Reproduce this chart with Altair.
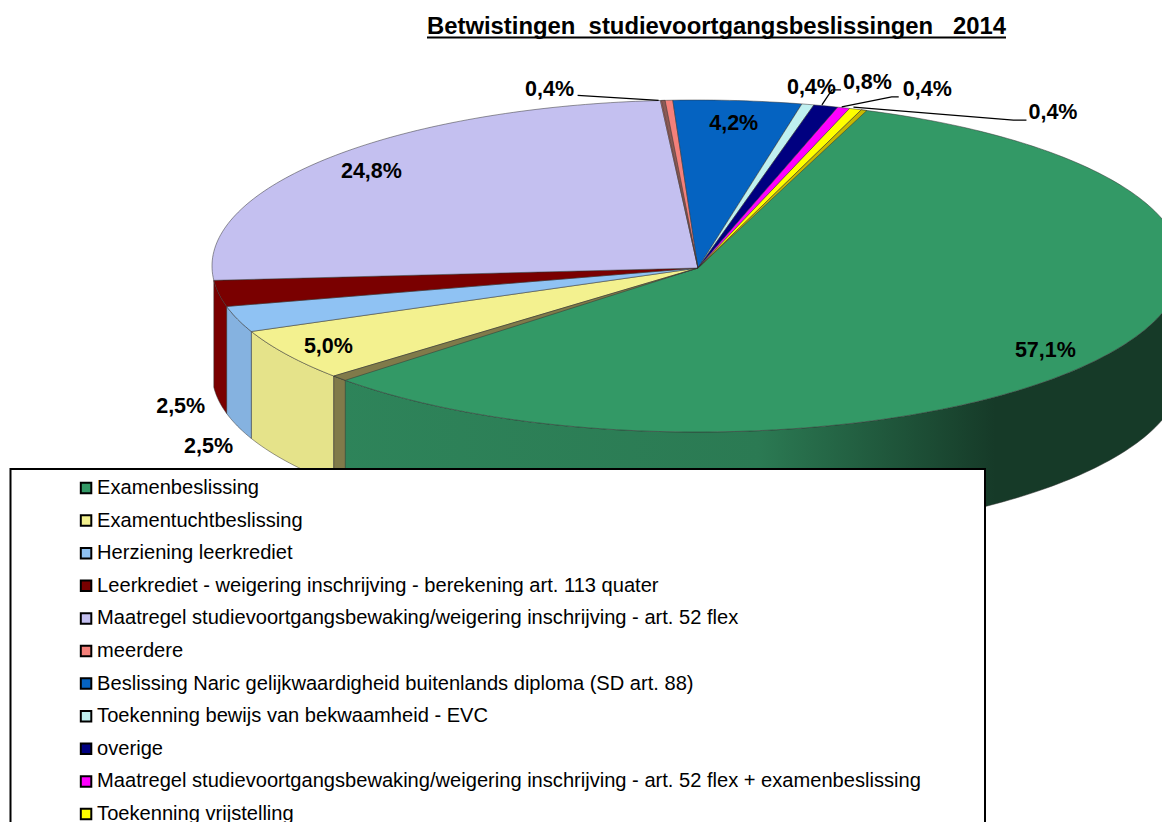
import math
import altair as alt
import pandas as pd

# ---- values ----
categories = [
    "Examenbeslissing",
    "Examentuchtbeslissing",
    "Herziening leerkrediet",
    "Leerkrediet - weigering inschrijving - berekening art. 113 quater",
    "Maatregel studievoortgangsbewaking/weigering inschrijving - art. 52 flex",
    "meerdere",
    "Beslissing Naric gelijkwaardigheid buitenlands diploma (SD art. 88)",
    "Toekenning bewijs van bekwaamheid - EVC",
    "overige",
    "Maatregel studievoortgangsbewaking/weigering inschrijving - art. 52 flex + examenbeslissing",
    "Toekenning vrijstelling",
]
values = [57.1, 5.0, 2.5, 2.5, 24.8, 0.4, 4.2, 0.4, 0.8, 0.4, 0.4]
labels = ["57,1%", "5,0%", "2,5%", "2,5%", "24,8%", "0,4%", "4,2%", "0,4%", "0,8%", "0,4%", "0,4%"]
colors = ["#339966", "#F3F18F", "#8FC2F3", "#7A0000", "#C4C0F0", "#F4807A",
          "#0563C1", "#BFF0F0", "#000080", "#FF00FF", "#FFFF00"]
wall_colors = [None, "#E5E38A", "#85B2E0", "#7A0000"]

# label offsets from each slice's rim midpoint (pixels)
label_offsets = [(-53, -8), (41, -8), (-29, 128), (-38, 114), (44, 13), (-117, -10),
                 (-4, 23), (3.5, -16.5), (41.5, -23), (83.6, -18), (197.5, 3.7)]
leaders = {5: [(-8, 0), (-89, -5)],
           8: [(-4, -1), (6, -16), (15, -16)],
           9: [(-2, -1), (48, -11), (55, -11)],
           10: [(-2, -2), (158, 11), (171, 11)]}

# ---- pie geometry ----
W, H = 1154, 814
CX, CY, RX, RY, DEPTH = 697, 266, 485, 166, 107 / 166
START = 70.2
px_u = lambda x: (x - CX) / RX
py_v = lambda y: (CY - y) / RY
APEX = (px_u(698), py_v(268))

total = sum(values)
bounds = [START]
for v in values:
    bounds.append(bounds[-1] - 360 * v / total)


def arc(a0, a1):
    n = max(2, int(abs(a1 - a0)) + 2)
    return [(math.cos(math.radians(a0 + (a1 - a0) * k / (n - 1))),
             math.sin(math.radians(a0 + (a1 - a0) * k / (n - 1)))) for k in range(n)]


def wedge(a0, a1):
    pts = [APEX] + arc(a0, a1) + [APEX]
    return pts


def wall(a0, a1):
    top = arc(a0, a1)
    bot = [(u, v - DEPTH) for u, v in reversed(top)]
    return top + bot + [top[0]]


def frame(pts, **extra):
    return pd.DataFrame([dict(u=u, v=v, i=i, **extra) for i, (u, v) in enumerate(pts)])


x_scale = alt.Scale(domain=[px_u(8), px_u(8 + W)], nice=False, zero=False)
y_scale = alt.Scale(domain=[py_v(8 + H), py_v(8)], nice=False, zero=False)
x_enc = alt.X("u:Q", axis=None, scale=x_scale)
y_enc = alt.Y("v:Q", axis=None, scale=y_scale)


def poly(pts, fill, stroke="#333333", sw=0.5):
    return alt.Chart(frame(pts)).mark_line(fill=fill, stroke=stroke, strokeWidth=sw, clip=True).encode(
        x=x_enc, y=y_enc, order="i:Q")


layers = []

# side walls
green_wall = alt.Gradient(gradient="linear", x1=0, x2=1, y1=0, y2=0, stops=[
    alt.GradientStop(color="#2E845A", offset=0),
    alt.GradientStop(color="#2B7A53", offset=0.5),
    alt.GradientStop(color="#163A28", offset=0.78),
    alt.GradientStop(color="#163A28", offset=1),
])
layers.append(poly(wall(0, bounds[1]), green_wall))
for k in (1, 2, 3):
    layers.append(poly(wall(bounds[k], max(bounds[k + 1], -180)), wall_colors[k]))
layers.append(poly(wall(bounds[1] + 2, bounds[1]), "#807A4A"))

# top faces
rows = []
for k, c in enumerate(categories):
    for i, (u, v) in enumerate(wedge(bounds[k], bounds[k + 1])):
        rows.append(dict(cat=c, u=u, v=v, i=i))
top = alt.Chart(pd.DataFrame(rows)).mark_line(stroke="#333333", strokeWidth=0.5, clip=True).encode(
    x=x_enc, y=y_enc, order="i:Q",
    fill=alt.Fill("cat:N", sort=categories,
                  scale=alt.Scale(domain=categories, range=colors),
                  legend=alt.Legend(title=None, orient="none", legendX=68, legendY=469,
                                    symbolType="square", symbolSize=110,
                                    symbolStrokeColor="black", symbolStrokeWidth=2,
                                    labelFont="Liberation Sans", labelFontSize=20.1,
                                    labelColor="black", labelLimit=1000, labelOffset=1,
                                    rowPadding=10.6, clipHeight=22, zindex=1,
                                    symbolOpacity=1)),
)
layers.append(top)

# small visible cut faces on the top
layers.append(poly(wedge(bounds[1] + 2, bounds[1]), "#807A4A"))
layers.append(poly(wedge(bounds[5] - 0.1, bounds[5] - 0.55), "#8A5A55"))
layers.append(poly(wedge(bounds[0], bounds[0] - 0.7), "#C8B800"))

# leader lines and labels
mids = [(bounds[k] + bounds[k + 1]) / 2 for k in range(len(values))]
rim = [(CX + RX * math.cos(math.radians(a)), CY - RY * math.sin(math.radians(a))) for a in mids]

lrows = []
for k, pts in leaders.items():
    for i, (dx, dy) in enumerate(pts):
        lrows.append(dict(k=k, i=i, u=px_u(rim[k][0] + dx), v=py_v(rim[k][1] + dy)))
layers.append(alt.Chart(pd.DataFrame(lrows)).mark_line(color="black", strokeWidth=1.3).encode(
    x=x_enc, y=y_enc, detail="k:N", order="i:Q"))

text_df = pd.DataFrame([
    dict(u=px_u(rim[k][0] + label_offsets[k][0]), v=py_v(rim[k][1] + label_offsets[k][1]), t=labels[k])
    for k in range(len(labels))])
layers.append(alt.Chart(text_df).mark_text(font="Liberation Sans", fontWeight="bold", fontSize=21.5,
                                           color="black", align="center", baseline="middle").encode(
    x=x_enc, y=y_enc, text="t:N"))

# legend frame
frame_df = pd.DataFrame([dict(a=px_u(10.5), b=px_u(985), c=py_v(469), d=py_v(900))])
layers.append(alt.Chart(frame_df).mark_rect(fill="white", stroke="black", strokeWidth=2, clip=True).encode(
    x=alt.X("a:Q", axis=None, scale=x_scale), x2="b:Q",
    y=alt.Y("c:Q", axis=None, scale=y_scale), y2="d:Q"))

# title underline
ul_df = pd.DataFrame([dict(a=px_u(427), b=px_u(1006), c=py_v(37.5))])
layers.append(alt.Chart(ul_df).mark_rule(color="black", strokeWidth=2).encode(
    x=alt.X("a:Q", axis=None, scale=x_scale), x2="b:Q",
    y=alt.Y("c:Q", axis=None, scale=y_scale)))

chart = alt.layer(*layers).properties(
    width=W, height=H, padding=0,
    autosize=alt.AutoSizeParams(type="none"),
    background="white",
    title=alt.TitleParams(text="Betwistingen\u00a0\u00a0studievoortgangsbeslissingen\u00a0\u00a0\u00a02014",
                          font="Liberation Sans", fontSize=23.85, fontWeight="bold", color="black",
                          anchor="start", dx=419, offset=-31),
).configure_view(stroke=None)

chart.save("out.html", embed_options={"renderer": "svg", "actions": False})
